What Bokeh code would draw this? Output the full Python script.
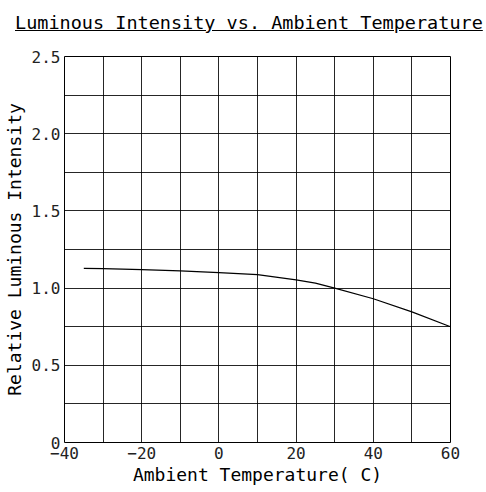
from bokeh.plotting import figure
from bokeh.models import Range1d, FixedTicker, Div
from bokeh.layouts import column
from bokeh.embed import file_html
from bokeh.resources import INLINE

title_text = "Luminous Intensity vs. Ambient Temperature"
x_label = "Ambient Temperature( C)"
y_label = "Relative Luminous Intensity"

temps = [-35, -30, -20, -10, 0, 10, 20, 25, 30, 40, 50, 60]
intensity = [1.128, 1.126, 1.12, 1.111, 1.10, 1.087, 1.053, 1.032, 1.0, 0.931, 0.846, 0.75]

x_ticks = [-40, -20, 0, 20, 40, 60]
x_grid = [-40, -30, -20, -10, 0, 10, 20, 30, 40, 50, 60]
y_ticks = [0, 0.5, 1.0, 1.5, 2.0, 2.5]
y_tick_labels = ["0", "0.5", "1.0", "1.5", "2.0", "2.5"]
y_grid = [0, 0.25, 0.5, 0.75, 1.0, 1.25, 1.5, 1.75, 2.0, 2.25, 2.5]

FONT = "DejaVu Sans Mono"

title = Div(
    text=f'<div style="font-family:\'{FONT}\';font-size:18.5px;line-height:20px;'
         f'text-decoration:underline;color:#000;padding-left:15px;padding-top:13px;'
         f'white-space:nowrap;">{title_text}</div>',
    width=486, height=36, margin=0,
)

p = figure(width=486, height=454, output_backend="svg", toolbar_location=None,
           x_range=Range1d(-40, 60), y_range=Range1d(0, 2.5),
           min_border_left=64, min_border_right=36, min_border_top=20, min_border_bottom=48,
           margin=0)

p.outline_line_color = "black"
p.outline_line_width = 1
p.background_fill_color = "white"

p.xaxis.ticker = FixedTicker(ticks=x_ticks)
p.yaxis.ticker = FixedTicker(ticks=y_ticks)
p.yaxis.major_label_overrides = {t: l for t, l in zip(y_ticks, y_tick_labels)}
p.xgrid.ticker = FixedTicker(ticks=x_grid)
p.ygrid.ticker = FixedTicker(ticks=y_grid)
for g in (p.xgrid, p.ygrid):
    g.grid_line_color = "black"
    g.grid_line_width = 1
    g.grid_line_alpha = 0.85

for ax in (p.xaxis, p.yaxis):
    ax.axis_line_color = None
    ax.major_tick_out = 0
    ax.major_tick_in = 0
    ax.minor_tick_out = 0
    ax.minor_tick_in = 0
    ax.major_label_text_font = FONT
    ax.major_label_text_font_size = "16px"
    ax.major_label_text_color = "#222222"
    ax.axis_label_text_font = FONT
    ax.axis_label_text_font_size = "18px"
    ax.axis_label_text_font_style = "normal"
    ax.axis_label_text_color = "black"

p.xaxis.axis_label = x_label
p.yaxis.axis_label = y_label
p.xaxis.major_label_standoff = 4
p.xaxis.axis_label_standoff = 2
p.yaxis.major_label_standoff = 4
p.yaxis.axis_label_standoff = 4

p.line(temps, intensity, line_color="black", line_width=1.2)

layout = column(title, p, spacing=0)
open("out.html", "w").write(file_html(layout, INLINE))
